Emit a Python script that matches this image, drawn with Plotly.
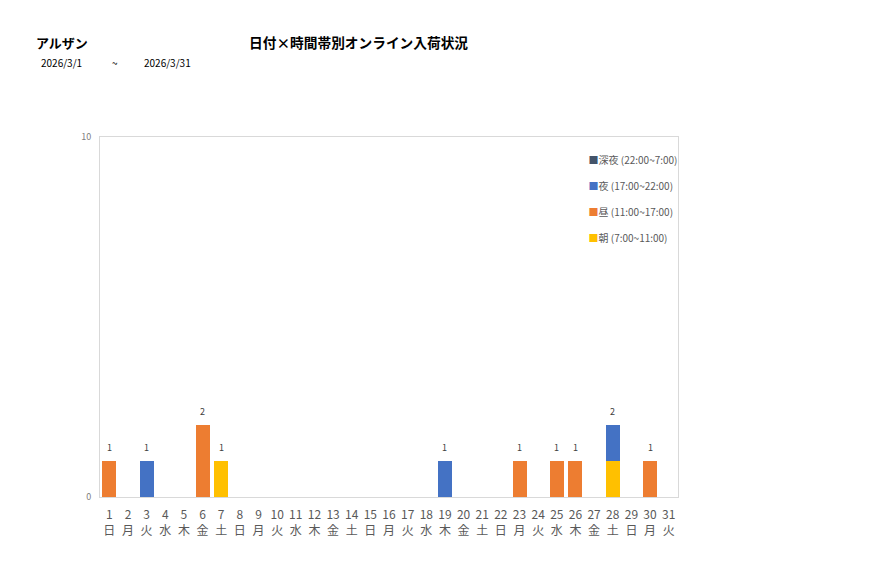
import plotly.graph_objects as go

# 日付 (3月) と曜日
days = [str(d) for d in range(1, 32)]
weekdays = ["日", "月", "火", "水", "木", "金", "土"] * 4 + ["日", "月", "火"]

# 時間帯別の入荷件数
asa = [0, 0, 0, 0, 0, 0, 1, 0, 0, 0, 0, 0, 0, 0, 0, 0, 0, 0, 0, 0, 0, 0, 0, 0, 0, 0, 0, 1, 0, 0, 0]
hiru = [1, 0, 0, 0, 0, 2, 0, 0, 0, 0, 0, 0, 0, 0, 0, 0, 0, 0, 0, 0, 0, 0, 1, 0, 1, 1, 0, 0, 0, 1, 0]
yoru = [0, 0, 1, 0, 0, 0, 0, 0, 0, 0, 0, 0, 0, 0, 0, 0, 0, 0, 1, 0, 0, 0, 0, 0, 0, 0, 0, 1, 0, 0, 0]
shinya = [0] * 31

# 下から積む順
series = [
    ("朝 (7:00~11:00)", asa, "#FFC000"),
    ("昼 (11:00~17:00)", hiru, "#ED7D31"),
    ("夜 (17:00~22:00)", yoru, "#4472C4"),
    ("深夜 (22:00~7:00)", shinya, "#44546A"),
]

totals = [a + b + c + d for a, b, c, d in zip(asa, hiru, yoru, shinya)]

jp = "Noto Sans CJK JP"
fig = go.Figure()

for name, vals, color in series:
    fig.add_trace(go.Bar(
        x=days, y=vals, name=name, marker_color=color,
        marker_line_width=0, showlegend=False, hoverinfo="skip",
    ))

# 凡例 (上から 深夜, 夜, 昼, 朝)
for i, (name, vals, color) in enumerate(reversed(series)):
    fig.add_trace(go.Scatter(
        x=[None], y=[None], mode="markers",
        name='<span style="color:%s">■</span>%s' % (color, name),
        marker=dict(symbol="square", size=1, color="rgba(0,0,0,0)"),
        legendgroup="g%d" % i, showlegend=True,
    ))

# 合計ラベル (カテゴリ軸なので位置はインデックスで指定)
labels = []
for i, t in enumerate(totals):
    if t > 0:
        labels.append(dict(
            x=i, y=t, xref="x", yref="y", text=str(t), showarrow=False,
            yshift=14, font=dict(size=9, color="#404040", family=jp),
        ))

fig.update_layout(
    width=877, height=578,
    margin=dict(l=92, r=207, t=129, b=89),
    plot_bgcolor="white", paper_bgcolor="white",
    barmode="stack", bargap=0.25,
    font=dict(family=jp, color="#595959"),
    legend=dict(
        x=0.776, y=0.976, xanchor="left", yanchor="top",
        traceorder="grouped", tracegroupgap=7,
        font=dict(size=10, color="#595959", family=jp),
        bgcolor="rgba(0,0,0,0)", itemwidth=30,
    ),
    xaxis=dict(
        type="category", tickvals=days,
        ticktext=[d + "<br>" + w for d, w in zip(days, weekdays)],
        tickfont=dict(size=12, color="#595959", family=jp),
        showline=True, linecolor="#D9D9D9", linewidth=1, mirror=True,
        ticks="", showgrid=False, ticklabelstandoff=7,
    ),
    yaxis=dict(
        range=[0, 10], tickvals=[0, 10], ticktext=["0", "10"],
        tickfont=dict(size=9, color="#808080", family=jp),
        showline=True, linecolor="#D9D9D9", linewidth=1, mirror=True,
        showgrid=False, zeroline=False, ticks="", ticklabelstandoff=6,
    ),
)

# 見出し (ページ上のピクセル位置)
heads = [
    ("<b>アルザン</b>", 34, 42, 13),
    ("<b>日付×時間帯別オンライン入荷状況</b>", 247, 42, 13.7),
    ("2026/3/1", 39, 62, 10),
    ("~", 110, 62, 10),
    ("2026/3/31", 142, 62, 10),
]
for text, px, py, size in heads:
    labels.append(dict(
        text=text, xref="paper", yref="paper",
        x=(px - 100) / 578, y=(497 - py) / 360,
        xanchor="left", yanchor="middle", showarrow=False,
        font=dict(size=size, color="#000000", family=jp),
    ))

fig.update_layout(annotations=labels)

fig.write_html("out.html")
